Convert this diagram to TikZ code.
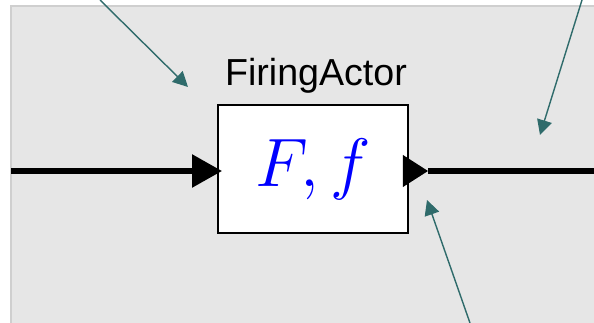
\documentclass[tikz,border=0pt]{standalone}
\usepackage{fix-cm}
\usepackage{fontspec}
\setmainfont{Liberation Sans}
\usepackage{amsmath}
\usetikzlibrary{arrows.meta}

\definecolor{canvasgray}{HTML}{E6E6E6}
\definecolor{edgegray}{HTML}{CFCFCF}
\definecolor{pointerteal}{HTML}{2F6B6B}

\tikzset{
    actorbox/.style={draw=black, line width=1.1pt, fill=white, minimum width=3.8cm, minimum height=2.56cm, inner sep=0pt},
    relation/.style={line width=3.2pt},
    pointer/.style={pointerteal, line width=0.8pt, -{Triangle[length=0.3cm, width=0.3cm]}}
}

\begin{document}
\begin{tikzpicture}
    \useasboundingbox (0,0) rectangle (11.88,6.46);

    % Draw the canvas
    \fill[canvasgray] (0.22,0) rectangle (11.88,6.34);
    \draw[edgegray, line width=0.6pt] (0.22,0) -- (0.22,6.34) -- (11.88,6.34);

    % The actor and its name
    \node[actorbox] (actor) at (6.26,3.08) {\fontsize{39}{41}\selectfont $\color{blue}F, f$};
    \node (name) at (6.32,4.94) {\fontsize{21.4}{23}\selectfont FiringActor};

    % Input relation and port
    \coordinate (source) at (0.22,3.04);
    \draw[relation, -{Triangle[length=0.6cm, width=0.64cm]}] (source) -- ([xshift=0.1cm]actor.west |- source);

    % Output port and relation
    \coordinate (outbase) at (8.06,3.04);
    \coordinate (outtip) at (8.56,3.04);
    \coordinate (sink) at (11.88,3.04);
    \fill (outbase) ++(0,0.32) -- (outtip) -- ++(-0.5,-0.32) -- cycle;
    \draw[relation] (outtip) -- (sink);

    % Pointers
    \coordinate (p1) at (2.0,6.46);
    \coordinate (t1) at (3.76,4.72);
    \coordinate (p2) at (11.64,6.46);
    \coordinate (t2) at (10.8,3.76);
    \coordinate (p3) at (9.4,0);
    \coordinate (t3) at (8.54,2.46);
    \draw[pointer] (p1) -- (t1);
    \draw[pointer] (p2) -- (t2);
    \draw[pointer] (p3) -- (t3);
\end{tikzpicture}
\end{document}
